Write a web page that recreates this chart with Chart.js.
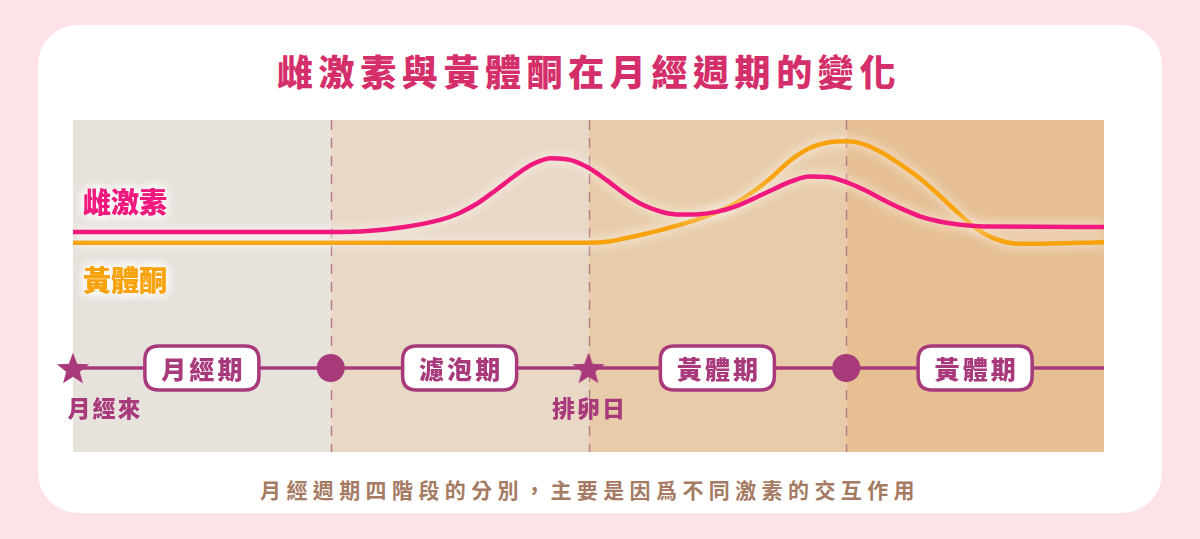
<!DOCTYPE html>
<html>
<head>
<meta charset="utf-8">
<script src="https://cdn.jsdelivr.net/npm/chart.js@4.4.1/dist/chart.umd.min.js"></script>
<style>
html,body{margin:0;padding:0;width:1200px;height:539px;background:#fde3e8;overflow:hidden;font-family:"Noto Sans CJK TC","Noto Sans CJK SC",sans-serif;}
#card{position:absolute;left:38px;top:25px;width:1124px;height:488px;background:#ffffff;border-radius:40px;}
#title{position:absolute;left:277px;top:45px;width:600px;text-align:center;font-size:36px;line-height:50px;font-weight:900;color:#d52f6b;letter-spacing:5.6px;white-space:nowrap;}
#caption{position:absolute;left:240px;top:474px;width:700px;text-align:center;font-size:21px;line-height:30px;font-weight:700;color:#a57b63;letter-spacing:5.4px;white-space:nowrap;}
#wrap{position:absolute;left:0;top:0;width:1200px;height:539px;}
</style>
</head>
<body>
<div id="card"></div>
<div id="title">雌激素與黃體酮在月經週期的變化</div>
<div id="caption">月經週期四階段的分別，主要是因爲不同激素的交互作用</div>
<div id="wrap"><canvas id="c" width="1200" height="539"></canvas></div>
<script>
// ---- data ----
const estrogenDays   = [0, 7, 8, 9, 10, 10.5, 11, 11.5, 12, 12.5, 13, 13.5, 14, 14.5, 15, 15.5, 16, 16.5, 17, 17.5, 18, 18.5, 19, 19.5, 20, 20.5, 21, 21.5, 22, 22.5, 23, 23.5, 24, 24.5, 25, 28];
const estrogenLevels = [66.3, 66.3, 66.6, 67.8, 70.0, 72.0, 75.0, 79.0, 83.2, 86.8, 88.5, 88.0, 85.6, 81.8, 77.6, 74.3, 72.3, 71.5, 71.6, 72.4, 74.0, 76.4, 79.0, 81.5, 83.0, 82.8, 81.3, 78.9, 76.0, 73.3, 71.0, 69.5, 68.6, 68.1, 67.9, 67.8];
const progesteroneDays   = [0, 14, 14.5, 15, 15.5, 16, 16.5, 17, 17.5, 18, 18.5, 19, 19.5, 20, 20.5, 21, 21.5, 22, 22.5, 23, 23.5, 24, 24.5, 25, 25.5, 26, 28];
const progesteroneLevels = [63.0, 63.0, 63.3, 64.4, 65.6, 67.0, 68.5, 70.2, 72.3, 75.0, 78.6, 83.0, 88.0, 91.5, 93.2, 93.6, 92.6, 90.0, 86.4, 82.4, 77.6, 72.4, 67.6, 64.4, 62.9, 62.7, 63.2];
const seriesNames = ['雌激素', '黃體酮'];
const phaseStarts = [0, 7, 14, 21];
const phaseEnds   = [7, 14, 21, 28];
const phaseLabels = ['月經期', '濾泡期', '黃體期', '黃體期'];
const markerDays  = [0, 7, 14, 21];
const markerKinds = ['star', 'circle', 'star', 'circle'];
const markerNotes = ['月經來', '', '排卵日', ''];
const timelineLevel = 25.3;

// ---- styles ----
const pink = '#f2197e', orange = '#f8a20c', plum = '#a83a7c';
const bandColors = ['#e8e2dc', '#e9d8c6', '#e8cca9', '#e6bf93'];
const FONT = '"Noto Sans CJK TC","Noto Sans CJK SC",sans-serif';

function makeStar(r, color){
  const s = Math.ceil(r*2+2);
  const cv = document.createElement('canvas');
  cv.width = s; cv.height = s;
  const g = cv.getContext('2d');
  g.fillStyle = color;
  g.beginPath();
  for (let i=0;i<10;i++){
    const rad = i%2===0 ? r : r*0.42;
    const a = -Math.PI/2 + i*Math.PI/5;
    const px = s/2 + rad*Math.cos(a), py = s/2 + rad*Math.sin(a) + 1.5;
    if(i===0) g.moveTo(px,py); else g.lineTo(px,py);
  }
  g.closePath(); g.fill();
  return cv;
}
const starImg = makeStar(17, plum);

function rrect(ctx,x,y,w,h,r){
  ctx.beginPath();
  ctx.moveTo(x+r,y);
  ctx.lineTo(x+w-r,y); ctx.quadraticCurveTo(x+w,y,x+w,y+r);
  ctx.lineTo(x+w,y+h-r); ctx.quadraticCurveTo(x+w,y+h,x+w-r,y+h);
  ctx.lineTo(x+r,y+h); ctx.quadraticCurveTo(x,y+h,x,y+h-r);
  ctx.lineTo(x,y+r); ctx.quadraticCurveTo(x,y,x+r,y);
  ctx.closePath();
}

const backgroundPlugin = {
  id: 'bands',
  beforeDatasetsDraw(chart){
    const {ctx, chartArea:a, scales:{x}} = chart;
    ctx.save();
    phaseStarts.forEach((s,i)=>{
      const x0 = x.getPixelForValue(s), x1 = x.getPixelForValue(phaseEnds[i]);
      ctx.fillStyle = bandColors[i];
      ctx.fillRect(x0, a.top, x1-x0, a.bottom-a.top);
    });
    ctx.strokeStyle = '#b97d88';
    ctx.lineWidth = 1.5;
    ctx.setLineDash([10,8]);
    phaseStarts.slice(1).forEach(s=>{
      const px = Math.round(x.getPixelForValue(s))+0.5;
      ctx.beginPath(); ctx.moveTo(px, a.top); ctx.lineTo(px, a.bottom); ctx.stroke();
    });
    ctx.setLineDash([]);
    // series labels with glow
    ctx.font = '900 28px ' + FONT;
    ctx.textBaseline = 'middle';
    ctx.textAlign = 'left';
    const labelY = [202, 280];
    const cols = [pink, orange];
    seriesNames.forEach((n,i)=>{
      ctx.shadowColor = 'rgba(255,255,255,1)';
      ctx.shadowBlur = 12;
      ctx.fillStyle = cols[i];
      for (let k=0;k<3;k++) ctx.fillText(n, a.left+10, labelY[i]);
    });
    ctx.restore();
  }
};

const glowPlugin = {
  id: 'glow',
  beforeDatasetDraw(chart, args){
    if (args.index < 2){
      const ctx = chart.ctx;
      ctx.save();
      ctx.shadowColor = 'rgba(255,255,255,1)';
      ctx.shadowBlur = 12;
    }
  },
  afterDatasetDraw(chart, args){
    if (args.index < 2) chart.ctx.restore();
  }
};

const labelsPlugin = {
  id: 'phaseLabels',
  afterDatasetsDraw(chart){
    const {ctx, scales:{x,y}} = chart;
    const ty = y.getPixelForValue(timelineLevel);
    ctx.save();
    phaseLabels.forEach((t,i)=>{
      const cx = x.getPixelForValue((phaseStarts[i]+phaseEnds[i])/2);
      const w = 114, h = 44;
      rrect(ctx, cx-w/2, ty-h/2, w, h, 14);
      ctx.fillStyle = '#ffffff';
      ctx.fill();
      ctx.lineWidth = 3.5;
      ctx.strokeStyle = plum;
      ctx.stroke();
      ctx.fillStyle = plum;
      ctx.font = '900 25px ' + FONT;
      ctx.textAlign = 'center';
      ctx.textBaseline = 'middle';
      try { ctx.letterSpacing = '3px'; } catch(e){}
      ctx.fillText(t, cx+1.5, ty+1);
    });
    ctx.font = '900 23px ' + FONT;
    try { ctx.letterSpacing = '2px'; } catch(e){}
    markerNotes.forEach((t,i)=>{
      if(!t) return;
      let cx = x.getPixelForValue(markerDays[i]);
      if (i===0) cx += 31;
      ctx.fillText(t, cx+1, ty+40);
    });
    ctx.restore();
  }
};

new Chart(document.getElementById('c'), {
  type: 'line',
  data: {
    datasets: [
      {
        label: seriesNames[0],
        data: estrogenDays.map((d,i)=>({x:d, y:estrogenLevels[i]})),
        borderColor: pink, borderWidth: 4.5, pointRadius: 0,
        cubicInterpolationMode: 'monotone', fill: false
      },
      {
        label: seriesNames[1],
        data: progesteroneDays.map((d,i)=>({x:d, y:progesteroneLevels[i]})),
        borderColor: orange, borderWidth: 4.5, pointRadius: 0,
        cubicInterpolationMode: 'monotone', fill: false
      },
      {
        label: 'markers',
        data: markerDays.map(d=>({x:d, y:timelineLevel})),
        showLine: false,
        pointStyle: markerKinds.map(k=> k==='star' ? starImg : 'circle'),
        pointRadius: 14, pointBackgroundColor: plum, pointBorderColor: plum, pointBorderWidth: 0,
        clip: false
      },
      {
        label: 'timeline',
        data: [{x:phaseStarts[0], y:timelineLevel},{x:phaseEnds[phaseEnds.length-1], y:timelineLevel}],
        borderColor: plum, borderWidth: 3.5, pointRadius: 0, fill: false
      }
    ]
  },
  options: {
    responsive: false,
    animation: false,
    devicePixelRatio: 1,
    layout: { padding: { left: 73, right: 96, top: 120, bottom: 87 } },
    scales: {
      x: { type: 'linear', min: 0, max: 28, display: false },
      y: { min: 0, max: 100, display: false }
    },
    plugins: { legend: { display: false }, tooltip: { enabled: false }, title: { display: false } }
  },
  plugins: [backgroundPlugin, glowPlugin, labelsPlugin]
});
</script>
</body>
</html>
